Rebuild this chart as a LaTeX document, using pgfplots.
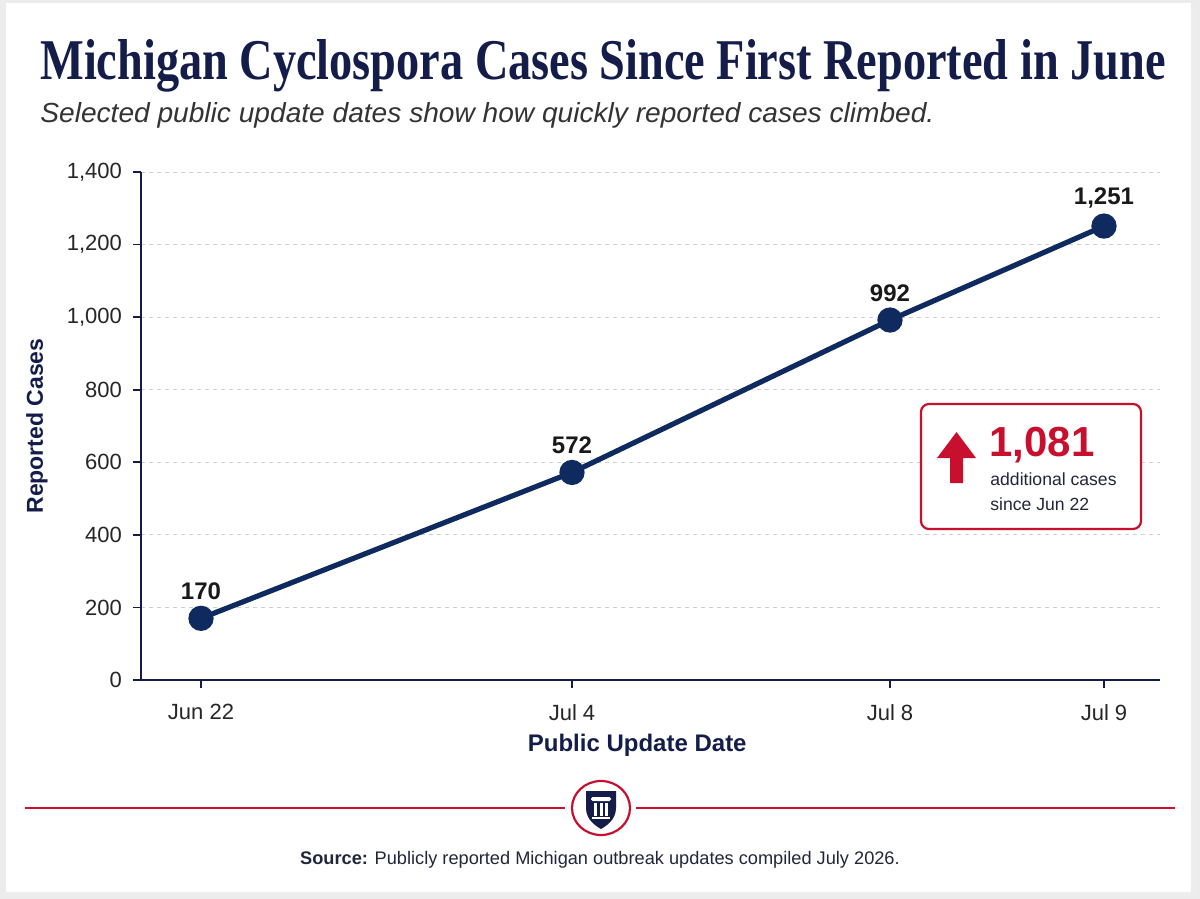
\documentclass[border=0pt]{standalone}
\usepackage{fontspec}
\setmainfont{Liberation Sans}
\newfontfamily\titlefont{Liberation Serif}
\usepackage{graphicx}
\usepackage{pgfplots}
\pgfplotsset{compat=1.18}

\definecolor{navy}{HTML}{141D4A}
\definecolor{linenavy}{HTML}{0E2A5E}
\definecolor{accent}{HTML}{C8102E}
\definecolor{subgray}{HTML}{333333}
\definecolor{gridgray}{HTML}{CFCFCF}
\definecolor{pagebg}{HTML}{ECECEC}
\definecolor{bodytext}{HTML}{22263A}

\begin{document}
\begin{tikzpicture}
% page, card and headings (1 unit = 0.5pt, y pointing down)
\begin{scope}[x=0.5pt,y=-0.5pt]
  \useasboundingbox (0,0) rectangle (1200,899);
  \fill[pagebg] (0,0) rectangle (1200,899);
  \fill[black!7] (8,6) rectangle (1194,896);
  \fill[white] (6,3) rectangle (1191,892);
  \node[anchor=base west, inner sep=0, text=navy] at (40,80)
    {\resizebox{562.5pt}{20pt}{\titlefont\bfseries Michigan Cyclospora Cases Since First Reported in June}};
  \node[anchor=base west, inner sep=0, text=subgray] at (40,122)
    {\resizebox{447pt}{10pt}{\itshape Selected public update dates show how quickly reported cases climbed.}};
\end{scope}

\begin{axis}[
  at={(70.5pt,-340pt)}, anchor=south west,
  scale only axis, width=509.5pt, height=254pt,
  xmin=-60, xmax=959, ymin=0, ymax=1400,
  axis lines=left,
  axis line style={navy, line width=1pt, -},
  xtick={0,371,689,903},
  xticklabels={Jun 22, Jul 4, Jul 8, Jul 9},
  ytick={0,200,...,1400},
  tick align=outside, major tick length=4pt,
  tick style={navy, line width=0.9pt},
  ymajorgrids,
  grid style={gridgray, dash pattern=on 2pt off 2pt, line width=0.5pt},
  tick label style={font=\fontsize{11}{13}\selectfont, text=black!85},
  xticklabel style={yshift=-4.5pt},
  yticklabel style={xshift=-2pt},
  /pgf/number format/assume math mode=true,
  /pgf/number format/1000 sep={,},
  xlabel={Public Update Date},
  ylabel={Reported Cases},
  every axis x label/.style={at={(axis description cs:0.487,0)}, yshift=-32.5pt, anchor=center,
    font=\bfseries\fontsize{12}{14}\selectfont, text=navy},
  every axis y label/.style={at={(axis description cs:0,0.5)}, xshift=-52pt, rotate=90, anchor=center,
    font=\bfseries\fontsize{11.5}{14}\selectfont, text=navy},
  clip=false,
]
\addplot[linenavy, line width=2.6pt, mark=*, mark size=5pt,
  mark options={fill=linenavy, draw=none},
  nodes near coords,
  every node near coord/.append style={font=\bfseries\fontsize{12}{14}\selectfont, text=black!90, yshift=4.5pt}]
  coordinates {(0,170) (371,572) (689,992) (903,1251)};
\end{axis}

% callout and footer
\begin{scope}[x=0.5pt,y=-0.5pt]
  \draw[accent, line width=1.1pt, rounded corners=4pt, fill=white] (921,404) rectangle (1141,529);
  \fill[accent] (956.5,432) -- (976,458) -- (963,458) -- (963,483) -- (950,483) -- (950,458) -- (937,458) -- cycle;
  \node[anchor=base west, inner sep=0, text=accent, font=\bfseries\fontsize{21}{24}\selectfont] at (989,456) {1,081};
  \node[anchor=base west, inner sep=0, text=bodytext, font=\fontsize{8.8}{11}\selectfont] at (990,485) {additional cases};
  \node[anchor=base west, inner sep=0, text=bodytext, font=\fontsize{8.8}{11}\selectfont] at (990,510) {since Jun 22};

  \draw[accent, line width=1pt] (25,808) -- (565,808);
  \draw[accent, line width=1pt] (636,808) -- (1175,808);
  \draw[accent, line width=1.1pt, fill=white] (601,808) ellipse [x radius=14.5pt, y radius=13.5pt];
  \fill[navy] (586,791) -- (616,791) -- (616,808) .. controls (616,820) and (606,826) .. (601,829)
     .. controls (596,826) and (586,820) .. (586,808) -- cycle;
  \fill[white, rounded corners=0.8pt] (591,797) rectangle (611,801);
  \fill[white] (594,803) rectangle (597,816);
  \fill[white] (599.5,803) rectangle (602.5,816);
  \fill[white] (605,803) rectangle (608,816);
  \fill[white] (592,817) rectangle (610,819);

  \node[anchor=base, inner sep=0, text=bodytext, font=\fontsize{9.1}{11}\selectfont] at (600,864)
    {\textbf{Source:} Publicly reported Michigan outbreak updates compiled July 2026.};
\end{scope}
\end{tikzpicture}
\end{document}
